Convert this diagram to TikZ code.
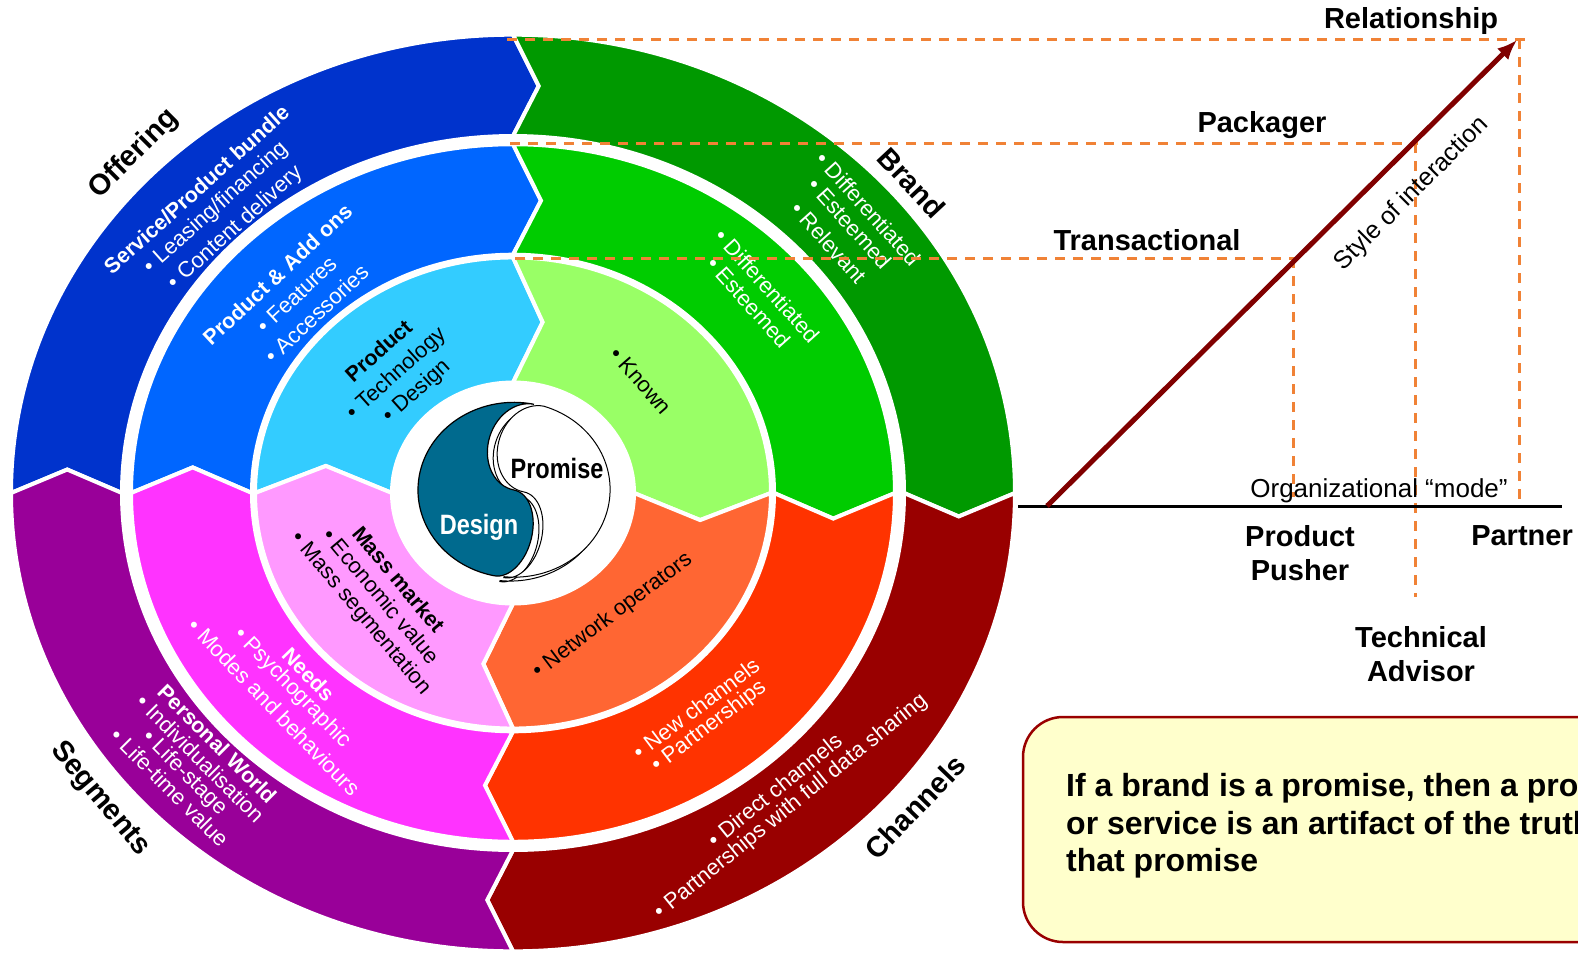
\documentclass[tikz,border=0pt]{standalone}
\usepackage{fontspec}
\setmainfont{Liberation Sans}
\usepackage{graphicx}
\usetikzlibrary{arrows.meta}

\definecolor{offerout}{HTML}{0033CC}
\definecolor{offermid}{HTML}{0066FF}
\definecolor{offerin}{HTML}{33CCFF}
\definecolor{brandout}{HTML}{009900}
\definecolor{brandmid}{HTML}{00CC00}
\definecolor{brandin}{HTML}{99FF66}
\definecolor{chanout}{HTML}{990000}
\definecolor{chanmid}{HTML}{FF3300}
\definecolor{chanin}{HTML}{FF6633}
\definecolor{segout}{HTML}{990099}
\definecolor{segmid}{HTML}{FF33FF}
\definecolor{segin}{HTML}{FF99FF}
\definecolor{yincol}{HTML}{006A8E}
\definecolor{dashorange}{HTML}{F08236}
\definecolor{arrowred}{HTML}{800000}
\definecolor{notefill}{HTML}{FFFFCC}
\definecolor{noteline}{HTML}{990000}

% one quarter of a ring: colour, start angle, inner r, outer r, chevron offset (deg)
\newcommand{\ringpart}[5]{%
  \pgfmathsetmacro{\rmid}{(#3+#4)/2}%
  \pgfmathsetmacro{\aend}{#2-90}%
  \filldraw[fill=#1, draw=white, line width=4pt]
    (#2:#4) arc[start angle=#2, end angle=\aend, radius=#4]
    -- ({\aend-#5}:\rmid) -- (\aend:#3)
    arc[start angle=\aend, end angle=#2, radius=#3]
    -- ({#2-#5}:\rmid) -- cycle;
}

\begin{document}
\begin{tikzpicture}[x=1pt, y=1pt,
    ringtext/.style={font=\fontsize{22}{26}\selectfont, inner sep=0pt, anchor=west},
    ringhead/.style={ringtext, font=\fontsize{21.5}{26}\selectfont\bfseries},
    quadlabel/.style={font=\fontsize{29}{34}\selectfont\bfseries, inner sep=0pt},
    modelabel/.style={font=\fontsize{29}{34}\selectfont\bfseries, inner sep=0pt, align=center},
    levelline/.style={dashorange, line width=3pt, dash pattern=on 10pt off 8pt},
    trendarrow/.style={arrowred, line width=5pt, -{Latex[length=20pt,width=16pt]}},
    notebox/.style={draw=noteline, fill=notefill, line width=2.5pt, rounded corners=40pt},
    notetext/.style={font=\fontsize{32}{37.5}\selectfont\bfseries, inner sep=0pt, align=left, anchor=west}
]
    \useasboundingbox (0,0) rectangle (1578,-956);

    % Rings
    \begin{scope}[shift={(513,-493)}, yscale=0.913]
        \ringpart{offerout}{180}{391}{502}{3.3}
        \ringpart{brandout}{90}{391}{502}{3.3}
        \ringpart{chanout}{0}{391}{502}{3.3}
        \ringpart{segout}{-90}{391}{502}{3.3}
        \ringpart{offermid}{180}{261}{382}{5}
        \ringpart{brandmid}{90}{261}{382}{5}
        \ringpart{chanmid}{0}{261}{382}{5}
        \ringpart{segmid}{-90}{261}{382}{5}
        \ringpart{offerin}{180}{121}{258}{9}
        \ringpart{brandin}{90}{121}{258}{9}
        \ringpart{chanin}{0}{121}{258}{9}
        \ringpart{segin}{-90}{121}{258}{9}
    \end{scope}

    % Centre
    \begin{scope}[shift={(514,-490)}, yscale=0.913, rotate=-12]
        \draw[line width=1pt, shift={(-3,-5)}] (10,-96)
            arc[start angle=-90, end angle=90, x radius=28, y radius=48]
            arc[start angle=-90, end angle=-270, x radius=36, y radius=48]
            arc[start angle=84, end angle=-84, radius=96] -- cycle;
        \filldraw[fill=white, draw=black, line width=1pt] (10,-96)
            arc[start angle=-90, end angle=90, x radius=28, y radius=48]
            arc[start angle=-90, end angle=-270, x radius=36, y radius=48]
            arc[start angle=84, end angle=-84, radius=96] -- cycle;
        \filldraw[fill=yincol, draw=black, line width=1.2pt] (0,96)
            arc[start angle=90, end angle=270, radius=96]
            arc[start angle=-90, end angle=90, x radius=28, y radius=48]
            arc[start angle=-90, end angle=-270, x radius=36, y radius=48] -- cycle;
    \end{scope}
    \node[font=\fontsize{28}{32}\selectfont\bfseries, inner sep=0pt] (promise) at (557,-468) {\scalebox{0.84}[1]{Promise}};
    \node[font=\fontsize{28}{32}\selectfont\bfseries, text=white, inner sep=0pt] (design) at (479,-527) {\scalebox{0.84}[1]{Design}};

    % Offering
    \node[quadlabel, rotate=45] (offering) at (134,-154) {Offering};
    \node[ringhead, text=white, rotate=42] (offo1) at (107,-270) {Service/Product bundle};
    \node[ringtext, text=white, rotate=42] (offo2) at (147,-270) {\textbullet\ Leasing/financing};
    \node[ringtext, text=white, rotate=42] (offo3) at (171,-286) {\textbullet\ Content delivery};
    \node[ringhead, text=white, rotate=43] (offm1) at (206,-341) {Product \& Add ons};
    \node[ringtext, text=white, rotate=43] (offm2) at (260,-329) {\textbullet\ Features};
    \node[ringtext, text=white, rotate=43] (offm3) at (268,-359) {\textbullet\ Accessories};
    \node[ringhead, rotate=42] (offi1) at (348,-378) {Product};
    \node[ringtext, rotate=42] (offi2) at (350,-416) {\textbullet\ Technology};
    \node[ringtext, rotate=42] (offi3) at (386,-419) {\textbullet\ Design};

    % Brand
    \node[quadlabel, rotate=-47] (brand) at (912,-183) {Brand};
    \node[ringtext, text=white, rotate=-48] (bro1) at (820,-155) {\textbullet\ Differentiated};
    \node[ringtext, text=white, rotate=-48] (bro2) at (812,-181) {\textbullet\ Esteemed};
    \node[ringtext, text=white, rotate=-48] (bro3) at (795,-205) {\textbullet\ Relevant};
    \node[ringtext, text=white, rotate=-48] (brm1) at (719,-232) {\textbullet\ Differentiated};
    \node[ringtext, text=white, rotate=-48] (brm2) at (711,-260) {\textbullet\ Esteemed};
    \node[ringtext, rotate=-49] (bri1) at (614,-350) {\textbullet\ Known};

    % Channels
    \node[quadlabel, rotate=46] (channels) at (915,-807) {Channels};
    \node[ringtext, text=white, rotate=39] (cho1) at (710,-842) {\textbullet\ Direct channels};
    \node[ringtext, text=white, rotate=39] (cho2) at (657,-915) {\textbullet\ Partnerships with full data sharing};
    \node[ringtext, text=white, rotate=37] (chm1) at (635,-754) {\textbullet\ New channels};
    \node[ringtext, text=white, rotate=37] (chm2) at (654,-768) {\textbullet\ Partnerships};
    \node[ringtext, rotate=37] (chi1) at (535,-674) {\textbullet\ Network operators};

    % Segments
    \node[quadlabel, rotate=-50] (segments) at (100,-799) {Segments};
    \node[ringhead, text=white, rotate=-45] (sego1) at (162,-688) {Personal World};
    \node[ringtext, text=white, rotate=-45] (sego2) at (140,-698) {\textbullet\ Individualisation};
    \node[ringtext, text=white, rotate=-45] (sego3) at (145,-734) {\textbullet\ Life-stage};
    \node[ringtext, text=white, rotate=-45] (sego4) at (114,-732) {\textbullet\ Life-time value};
    \node[ringhead, text=white, rotate=-46] (segm1) at (286,-651) {Needs};
    \node[ringtext, text=white, rotate=-46] (segm2) at (237,-631) {\textbullet\ Psychographic};
    \node[ringtext, text=white, rotate=-46] (segm3) at (192,-622) {\textbullet\ Modes and behaviours};
    \node[ringhead, rotate=-50] (segi1) at (357,-529) {Mass market};
    \node[ringtext, rotate=-50] (segi2) at (327,-531) {\textbullet\ Economic value};
    \node[ringtext, rotate=-50] (segi3) at (295,-535) {\textbullet\ Mass segmentation};

    % Interaction levels
    \coordinate (relL) at (507,-39);
    \coordinate (relR) at (1525,-39);
    \coordinate (relTop) at (1519,-39);
    \coordinate (relFoot) at (1519,-500);
    \coordinate (packL) at (510,-143);
    \coordinate (packR) at (1418,-143);
    \coordinate (packTop) at (1415,-143);
    \coordinate (packFoot) at (1415,-597);
    \coordinate (transL) at (515,-258);
    \coordinate (transR) at (1296,-258);
    \coordinate (transTop) at (1293,-258);
    \coordinate (transFoot) at (1293,-497);
    \draw[levelline] (relL) -- (relR);
    \draw[levelline] (relTop) -- (relFoot);
    \draw[levelline] (packL) -- (packR);
    \draw[levelline] (packTop) -- (packFoot);
    \draw[levelline] (transL) -- (transR);
    \draw[levelline] (transTop) -- (transFoot);

    \node[modelabel, anchor=base] (relationship) at (1411,-28) {Relationship};
    \node[modelabel, anchor=base] (packager) at (1262,-132) {Packager};
    \node[modelabel, anchor=base] (transactional) at (1147,-250) {Transactional};

    % Axis and arrow
    \coordinate (axisL) at (1018,-506);
    \coordinate (axisR) at (1562,-506);
    \coordinate (origin) at (1047,-506);
    \coordinate (peak) at (1517,-40);
    \draw[line width=3pt] (axisL) -- (axisR);
    \draw[trendarrow] (origin) -- (peak);
    \node[font=\fontsize{25}{30}\selectfont, rotate=45, inner sep=0pt] (style) at (1412,-194) {Style of interaction};
    \node[font=\fontsize{26}{30}\selectfont, anchor=base, inner sep=0pt] (mode) at (1379,-497) {Organizational “mode”};

    \node[modelabel] (pusher) at (1300,-553) {Product\\Pusher};
    \node[modelabel] (partner) at (1522,-536) {Partner};
    \node[modelabel] (advisor) at (1421,-654) {Technical\\Advisor};

    % Note
    \draw[notebox] (1023,-717) rectangle (1660,-942);
    \node[notetext] (note) at (1066,-826) {If a brand is a promise, then a pro\\or service is an artifact of the truth\\that promise};
\end{tikzpicture}
\end{document}
